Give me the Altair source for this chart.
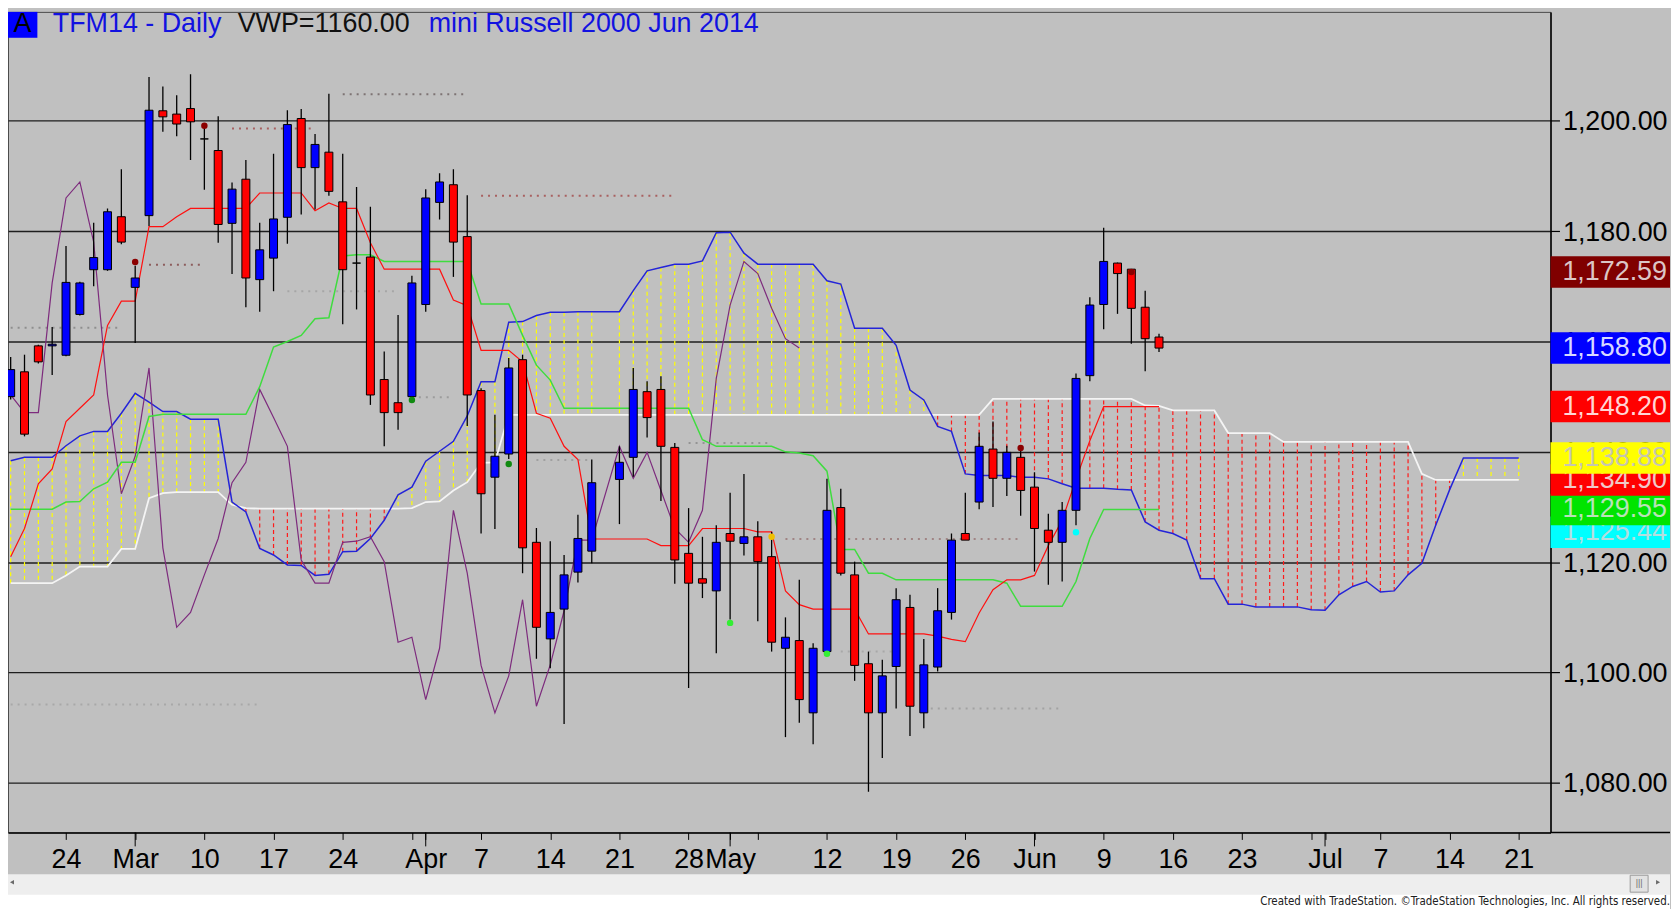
import json
import altair as alt
import pandas as pd

# ---------------- data ----------------
# weekday slot index: 0 = Mon 24 Feb 2014 ; slot 39 (Good Friday) has no bar
bar_idx = list(range(-4, 39)) + list(range(40, 80))

opens = [1150.0, 1154.5, 1159.2, 1159.2, 1157.5, 1164.9, 1173.0, 1173.0, 1182.6, 1169.8,
         1182.8, 1201.8, 1201.2, 1202.2, 1196.7, 1194.6, 1181.4, 1189.4, 1171.2, 1175.1,
         1182.5, 1200.4, 1191.5, 1194.3, 1185.3, 1174.2, 1175.3, 1153.1, 1148.9, 1150.0,
         1166.7, 1185.2, 1188.4, 1179.0, 1151.1, 1135.4, 1139.6, 1156.7, 1123.6, 1106.1,
         1111.5, 1118.2, 1122.0,
         1135.0, 1139.0, 1150.9, 1151.3, 1140.8, 1121.6, 1117.0, 1114.8, 1125.2, 1123.4,
         1124.6, 1121.0, 1104.4, 1105.8, 1092.7, 1103.8, 1129.9, 1117.7, 1101.6, 1092.7,
         1101.1, 1111.8, 1092.7, 1101.0, 1110.9, 1125.2, 1130.9, 1140.5, 1135.2, 1139.0,
         1133.6, 1125.8, 1123.6, 1129.4, 1153.8, 1166.7, 1174.2, 1173.1, 1166.2, 1160.8]
highs = [1157.2, 1157.6, 1159.4, 1162.6, 1177.3, 1170.8, 1181.5, 1184.1, 1191.2, 1173.7,
         1207.9, 1206.2, 1204.6, 1208.4, 1198.7, 1200.8, 1188.8, 1192.9, 1181.5, 1194.0,
         1201.9, 1202.1, 1197.6, 1204.9, 1194.0, 1188.0, 1184.4, 1158.2, 1164.8, 1171.9,
         1187.6, 1190.5, 1191.2, 1186.5, 1151.5, 1146.7, 1157.0, 1157.6, 1126.2, 1123.8,
         1121.3, 1128.6, 1138.6,
         1141.0, 1155.2, 1152.8, 1153.7, 1141.6, 1129.8, 1124.6, 1126.7, 1132.6, 1136.0,
         1127.4, 1125.5, 1110.0, 1116.8, 1105.3, 1135.1, 1133.3, 1120.1, 1103.8, 1102.3,
         1115.3, 1114.1, 1106.1, 1115.3, 1125.2, 1132.6, 1143.5, 1145.5, 1141.1, 1140.5,
         1136.3, 1128.8, 1130.9, 1154.2, 1168.0, 1180.6, 1174.3, 1173.1, 1169.2, 1161.4]
lows = [1149.5, 1142.8, 1156.0, 1153.9, 1157.3, 1164.7, 1170.0, 1172.8, 1177.6, 1159.7,
        1180.9, 1198.0, 1197.2, 1192.9, 1187.5, 1177.9, 1172.2, 1166.2, 1165.4, 1169.1,
        1177.7, 1183.0, 1183.9, 1186.4, 1163.1, 1165.8, 1148.5, 1141.0, 1144.0, 1149.1,
        1165.4, 1182.1, 1171.7, 1144.7, 1125.2, 1126.0, 1138.7, 1118.0, 1102.5, 1100.8,
        1090.7, 1116.3, 1119.8,
        1126.9, 1135.5, 1142.6, 1131.1, 1116.1, 1097.2, 1113.5, 1103.5, 1109.6, 1121.2,
        1109.3, 1103.8, 1088.3, 1090.9, 1087.0, 1103.2, 1117.6, 1098.5, 1078.4, 1084.5,
        1093.5, 1088.5, 1089.9, 1100.2, 1109.6, 1124.0, 1129.6, 1130.0, 1132.0, 1128.4,
        1118.3, 1115.9, 1116.5, 1126.7, 1152.8, 1162.2, 1165.0, 1159.6, 1154.6, 1158.1]
closes = [1154.9, 1143.2, 1156.3, 1159.5, 1170.7, 1170.6, 1175.2, 1183.5, 1178.0, 1171.5,
          1201.9, 1200.7, 1199.4, 1199.8, 1196.7, 1181.2, 1187.6, 1171.5, 1176.6, 1182.2,
          1199.3, 1191.5, 1195.7, 1187.2, 1173.0, 1174.2, 1150.3, 1147.1, 1147.1, 1170.6,
          1186.0, 1188.9, 1178.0, 1150.3, 1132.4, 1139.2, 1155.2, 1122.6, 1108.2, 1110.9,
          1117.7, 1124.3, 1134.4,
          1138.1, 1151.3, 1146.2, 1141.0, 1120.4, 1116.2, 1116.2, 1123.6, 1123.8, 1124.6,
          1120.1, 1105.5, 1106.4, 1095.1, 1104.4, 1129.4, 1118.0, 1101.3, 1092.7, 1099.4,
          1113.2, 1093.9, 1101.4, 1111.2, 1124.0, 1124.0, 1141.0, 1135.2, 1139.9, 1133.0,
          1126.1, 1123.6, 1129.4, 1153.3, 1166.6, 1174.5, 1172.3, 1166.0, 1160.5, 1158.8]

tenkan = [1121.0, 1126.1, 1134.2, 1136.9, 1145.5, 1147.9, 1150.3, 1162.9, 1167.3, 1167.3,
          1180.8, 1180.8, 1182.6, 1184.1, 1184.1, 1184.1, 1184.1, 1184.1, 1186.9, 1186.9,
          1186.9, 1186.9, 1183.7, 1185.1, 1184.1, 1184.1, 1177.9, 1173.1, 1173.1, 1173.1,
          1173.1, 1173.1, 1167.5, 1166.5, 1158.4, 1158.4, 1158.4, 1156.3, 1147.0, 1146.1,
          1141.0, 1138.6, 1124.2,
          1124.2, 1124.2, 1124.2, 1123.0, 1123.0, 1123.0, 1126.1, 1126.1, 1126.1, 1126.1,
          1125.5, 1125.5, 1114.8, 1112.3, 1111.5, 1111.5, 1111.5, 1111.5, 1107.0, 1107.0,
          1107.0, 1107.0, 1107.0, 1106.6, 1106.0, 1105.6, 1110.8, 1115.0, 1116.8, 1116.8,
          1117.6, 1123.0, 1127.6, 1135.0, 1142.0, 1148.2, 1148.2, 1148.2, 1148.2, 1148.2]
kijun = [1129.6, 1129.6, 1129.6, 1129.6, 1130.9, 1131.0, 1133.3, 1134.5, 1138.1, 1138.1,
         1146.4, 1146.8, 1146.8, 1146.8, 1146.8, 1146.8, 1146.8, 1146.8, 1151.8, 1159.0,
         1160.0, 1161.1, 1164.1, 1164.3, 1175.5, 1175.7, 1175.7, 1174.5, 1174.5, 1174.5,
         1174.5, 1174.5, 1174.5, 1174.5, 1166.8, 1166.8, 1166.8, 1161.1, 1155.7, 1153.0,
         1147.9, 1147.9, 1147.9,
         1147.9, 1147.9, 1147.9, 1147.9, 1147.9, 1147.9, 1142.2, 1141.0, 1141.0, 1141.0,
         1141.0, 1141.0, 1140.0, 1139.8, 1139.3, 1136.5, 1122.3, 1122.3, 1118.0, 1118.0,
         1116.8, 1116.8, 1116.8, 1116.8, 1116.8, 1116.8, 1116.8, 1116.8, 1116.2, 1112.0,
         1112.0, 1112.0, 1112.0, 1116.5, 1124.3, 1129.55, 1129.55, 1129.55, 1129.55, 1129.55]

span_idx = list(range(-4, 39)) + list(range(40, 106))
span_a = [1138.4, 1139.0, 1139.0, 1139.0,
          1141.1, 1142.9, 1143.7, 1143.7, 1147.0, 1150.6, 1149.0, 1147.3, 1147.3, 1145.9, 1145.9, 1145.9,
          1130.9, 1129.1, 1122.5, 1121.3, 1119.5, 1119.4, 1117.6, 1117.8, 1121.9, 1122.0, 1124.3, 1127.6,
          1132.2, 1133.6, 1138.3, 1140.1, 1141.9, 1146.5, 1152.7, 1152.7, 1163.5, 1163.6, 1164.7, 1165.3,
          1165.3, 1165.4, 1165.4,
          1165.4, 1169.2, 1172.8, 1173.4, 1174.0, 1174.0, 1174.6, 1179.7, 1179.8, 1176.0, 1174.0, 1174.0,
          1174.0, 1174.0, 1174.0,
          1171.0, 1170.4, 1162.4, 1162.4, 1162.4, 1159.3, 1151.2, 1149.4, 1144.6, 1143.7, 1136.0, 1135.7,
          1135.7, 1135.7, 1135.4,
          1135.4, 1135.1, 1134.2, 1133.4, 1133.4, 1133.4, 1133.2, 1133.1, 1127.3, 1125.8, 1125.2, 1124.0,
          1117.0, 1117.0, 1112.4,
          1112.4, 1111.9, 1111.9, 1111.9, 1111.9, 1111.4, 1111.3, 1114.1, 1115.6, 1116.5, 1114.6, 1114.8,
          1117.7, 1119.8, 1126.7,
          1133.1, 1138.88, 1138.88, 1138.88, 1138.88, 1138.88]
span_b = [1116.2, 1116.2, 1116.2, 1116.2,
          1117.6, 1119.2, 1119.2, 1119.2, 1122.4, 1122.4, 1131.6, 1132.5, 1132.7, 1132.7, 1132.7, 1132.7,
          1130.4, 1129.8, 1129.7, 1129.7, 1129.7, 1129.7, 1129.7, 1129.7, 1129.7, 1129.7, 1129.7, 1129.7,
          1129.7, 1129.8, 1130.9, 1131.0, 1133.0, 1134.5, 1138.0, 1138.1, 1146.7, 1146.7, 1146.7, 1146.7,
          1146.7, 1146.7, 1146.7,
          1146.7, 1146.7, 1146.7, 1146.7, 1146.7, 1146.7, 1146.7, 1146.7, 1146.7, 1146.7, 1146.7, 1146.7,
          1146.7, 1146.7, 1146.7,
          1146.7, 1146.7, 1146.7, 1146.7, 1146.7, 1146.7, 1146.7, 1146.7, 1146.7, 1146.7, 1146.7, 1146.7,
          1149.6, 1149.6, 1149.6,
          1149.6, 1149.6, 1149.6, 1149.6, 1149.6, 1149.6, 1149.6, 1149.6, 1148.4, 1148.3, 1147.5, 1147.5,
          1147.5, 1147.5, 1143.4,
          1143.4, 1143.4, 1143.4, 1141.8, 1141.8, 1141.8, 1141.8, 1141.8, 1141.8, 1141.8, 1141.8, 1141.8,
          1141.8, 1136.0, 1134.9,
          1134.9, 1134.9, 1134.9, 1134.9, 1134.9, 1134.9]

# faint dotted horizontal levels
dot_level = [1204.8, 1198.6, 1186.4, 1173.9, 1162.5, 1169.1, 1149.9, 1094.2, 1138.5, 1141.6, 1124.2, 1093.5, 1103.8]
dot_start = [20, 12, 30, 6, -4, 16, 25, -4, 34, 45, 52, 62, 56]
dot_end = [29, 18, 44, 10, 4, 24, 28, 14, 38, 51, 69, 72, 60]
dot_color = ["#7d7373", "#a86060", "#a86060", "#8c5c5c", "#8e8e8e", "#a6a6a6", "#9c9c9c",
             "#a8a8a8", "#a0a0a0", "#949494", "#a08484", "#a2a2a2", "#a8a8a8"]

# signal dots
sig_idx = [5, 10, 25, 32, 48, 51, 55, 69, 73, 77]
sig_val = [1174.4, 1199.1, 1149.4, 1137.8, 1109.0, 1124.6, 1103.4, 1140.7, 1125.44, 1172.59]
sig_color = ["#8b0000", "#8b0000", "#118a11", "#118a11", "#33ee33", "#f0c000", "#33ee33",
             "#8b0000", "#00ffff", "#8b0000"]

# last-value boxes on the price scale (drawn lowest first)
label_val = [1125.44, 1129.55, 1134.90, 1138.88, 1148.20, 1158.80, 1172.59]
label_bg = ["#00ffff", "#00e400", "#ff0000", "#ffff00", "#ff0000", "#0000ff", "#800000"]
label_fg = ["#b4dede", "#b8e2b8", "#f0c8c8", "#c6c6b0", "#ffd6d6", "#d8d8ff", "#dcc6c6"]

# axis ticks
tick_vals = [0, 5, 10, 15, 20, 25, 26, 30, 35, 40, 45, 48, 50, 55, 60, 65, 70, 75, 80, 85, 90, 91, 95, 100, 105]
tick_text = ["24", "Mar", "10", "17", "24", "", "Apr", "7", "14", "21", "28", "May", "", "12", "19", "26",
             "Jun", "9", "16", "23", "", "Jul", "7", "14", "21"]
month_ticks = [5, 26, 48, 70, 91]
y_ticks = [1080, 1100, 1120, 1140, 1160, 1180, 1200]

assert len(opens) == len(highs) == len(lows) == len(closes) == len(tenkan) == len(kijun) == len(bar_idx)
assert len(span_a) == len(span_b) == len(span_idx)

# ---------------- frames ----------------
candles = pd.DataFrame({"i": bar_idx, "open": opens, "high": highs, "low": lows, "close": closes})
n = len(bar_idx)
chikou = pd.DataFrame({"i": bar_idx[: n - 26], "v": closes[26:]})
tk = pd.DataFrame({"i": bar_idx, "v": tenkan})
kj = pd.DataFrame({"i": bar_idx, "v": kijun})
sa = pd.DataFrame({"i": span_idx, "v": span_a})
sb = pd.DataFrame({"i": span_idx, "v": span_b})
cloud = pd.DataFrame({"i": span_idx, "a": span_a, "b": span_b})
cloud["c"] = ["#ffff00" if a > b else "#ff1a1a" for a, b in zip(span_a, span_b)]
dots = pd.DataFrame({"v": dot_level, "s": dot_start, "e": dot_end, "c": dot_color})
sigs = pd.DataFrame({"i": sig_idx, "v": sig_val, "c": sig_color})
mt = pd.DataFrame({"i": month_ticks})
one = pd.DataFrame({"d": [0]})

# ---------------- geometry ----------------
W, H = 1549, 824
PX0, BAR = 61.6, 13.984
XS = alt.Scale(domain=[(8 - PX0) / BAR, (1557 - PX0) / BAR], nice=False, zero=False)
YS = alt.Scale(domain=[1071.03, 1219.72], nice=False, zero=False)
FONT = "Liberation Sans"

label_expr = "(" + json.dumps(tick_text) + ")[indexof(" + json.dumps(tick_vals) + ", datum.value)]"
XA = alt.Axis(values=tick_vals, labelExpr=label_expr, tickSize=7, tickColor="black", tickWidth=1,
              labelPadding=7, labelFontSize=27, labelColor="black", labelFont=FONT,
              domain=True, domainColor="black", domainWidth=1.5, grid=False, title=None,
              labelOverlap=False, labelFlush=False, labelBound=False, labelAngle=0)
YA = alt.Axis(orient="right", values=y_ticks, format=",.2f", grid=True, gridColor="#1e1e1e",
              gridWidth=1.4, tickSize=9, tickColor="black", tickWidth=1.2, labelPadding=3,
              labelFontSize=27, labelColor="black", labelFont=FONT, domain=True,
              domainColor="black", domainWidth=1.5, title=None, labelOverlap=False,
              labelFlush=False, labelBound=False, labelOffset=1)


def X(f):
    return alt.X(f"{f}:Q", scale=XS, axis=XA)


def Y(f):
    return alt.Y(f"{f}:Q", scale=YS, axis=YA)


layers = []
layers.append(alt.Chart(cloud).mark_rule(clip=True, strokeWidth=1.2, strokeDash=[4, 3]).encode(
    x=X("i"), y=Y("a"), y2=alt.Y2("b"), color=alt.Color("c:N", scale=None)))
layers.append(alt.Chart(dots).mark_rule(clip=True, strokeWidth=2, strokeDash=[2, 5]).encode(
    x=X("s"), x2=alt.X2("e"), y=Y("v"), color=alt.Color("c:N", scale=None)))
layers.append(alt.Chart(sb).mark_line(clip=True, color="#f4f4f4", strokeWidth=1.8).encode(x=X("i"), y=Y("v")))
layers.append(alt.Chart(sa).mark_line(clip=True, color="#2424d8", strokeWidth=1.5).encode(x=X("i"), y=Y("v")))
layers.append(alt.Chart(chikou).mark_line(clip=True, color="#7d2b7d", strokeWidth=1.2).encode(x=X("i"), y=Y("v")))
layers.append(alt.Chart(kj).mark_line(clip=True, color="#3fdc3f", strokeWidth=1.5).encode(x=X("i"), y=Y("v")))
layers.append(alt.Chart(tk).mark_line(clip=True, color="#ff1010", strokeWidth=1.2).encode(x=X("i"), y=Y("v")))
layers.append(alt.Chart(candles).mark_rule(clip=True, color="black", strokeWidth=1.3).encode(
    x=X("i"), y=Y("low"), y2=alt.Y2("high")))
layers.append(alt.Chart(candles).mark_bar(clip=True, size=8, stroke="black", strokeWidth=1).encode(
    x=X("i"), y=Y("open"), y2=alt.Y2("close"),
    color=alt.condition("datum.close >= datum.open", alt.value("#0000ff"), alt.value("#ff0000"))))
layers.append(alt.Chart(sigs).mark_circle(clip=True, size=42, opacity=1).encode(
    x=X("i"), y=Y("v"), color=alt.Color("c:N", scale=None)))

# price-scale value boxes
for v, bg, fg in zip(label_val, label_bg, label_fg):
    box = pd.DataFrame({"v": [v], "lo": [v - 2.85], "hi": [v + 2.85], "t": [f"{v:,.2f}"]})
    layers.append(alt.Chart(box).mark_rect(color=bg).encode(
        x=alt.value(W), x2=alt.value(W + 120), y=Y("lo"), y2=alt.Y2("hi")))
    layers.append(alt.Chart(box).mark_text(align="right", baseline="middle", fontSize=27, font=FONT,
                                           color=fg).encode(
        x=alt.value(W + 117), y=Y("v"), text="t:N"))

# month ticks (longer) and axis line under the price scale
layers.append(alt.Chart(mt).mark_rule(color="black", strokeWidth=1).encode(
    x=X("i"), y=alt.value(H), y2=alt.value(H + 14)))
layers.append(alt.Chart(one).mark_rule(color="black", strokeWidth=1.5).encode(
    x=alt.value(W), x2=alt.value(W + 120), y=alt.value(H)))

# scrollbar and footer
layers.append(alt.Chart(one).mark_rect(color="#eeeeee").encode(
    x=alt.value(0), x2=alt.value(W + 120), y=alt.value(H + 42), y2=alt.value(H + 62)))
layers.append(alt.Chart(one).mark_rect(color="#ffffff").encode(
    x=alt.value(0), x2=alt.value(W + 120), y=alt.value(H + 62), y2=alt.value(H + 77)))
layers.append(alt.Chart(one).mark_point(shape="triangle-left", filled=True, size=22, color="#6a6a6a", opacity=1).encode(
    x=alt.value(4), y=alt.value(H + 50)))
layers.append(alt.Chart(one).mark_point(shape="triangle-right", filled=True, size=22, color="#6a6a6a", opacity=1).encode(
    x=alt.value(W + 108), y=alt.value(H + 50)))
layers.append(alt.Chart(one).mark_rect(color="#e2e2e2", stroke="#9a9a9a", strokeWidth=1).encode(
    x=alt.value(W + 80), x2=alt.value(W + 98), y=alt.value(H + 43), y2=alt.value(H + 60)))
layers.append(alt.Chart(one).mark_text(text="|||", fontSize=9, font=FONT, color="#707070",
                                       align="center", baseline="middle").encode(
    x=alt.value(W + 89), y=alt.value(H + 51)))
layers.append(alt.Chart(one).mark_text(
    text="Created with TradeStation. \u00a9TradeStation Technologies, Inc. All rights reserved.",
    fontSize=11.5, font="Liberation Sans Narrow, Arial Narrow, DejaVu Sans Condensed, sans-serif",
    color="#202020", align="right", baseline="middle").encode(
    x=alt.value(W + 120), y=alt.value(H + 70)))

# header
layers.append(alt.Chart(one).mark_rect(color="#0000ff").encode(
    x=alt.value(0), x2=alt.value(29.5), y=alt.value(0), y2=alt.value(26)))
layers.append(alt.Chart(one).mark_text(text="A", fontSize=27, font=FONT, color="black",
                                       align="center", baseline="alphabetic").encode(
    x=alt.value(14.5), y=alt.value(20.3)))
layers.append(alt.Chart(one).mark_text(text="TFM14 - Daily", fontSize=27, font=FONT, color="#1212e0",
                                       align="left", baseline="alphabetic").encode(
    x=alt.value(44.9), y=alt.value(20.3)))
layers.append(alt.Chart(one).mark_text(text="VWP=1160.00", fontSize=27, font=FONT, color="#101010",
                                       align="left", baseline="alphabetic").encode(
    x=alt.value(230.6), y=alt.value(20.3)))
layers.append(alt.Chart(one).mark_text(text="mini Russell 2000 Jun 2014", fontSize=27, font=FONT,
                                       color="#1212e0", align="left", baseline="alphabetic").encode(
    x=alt.value(422.4), y=alt.value(20.3)))

chart = alt.layer(*layers).properties(width=W, height=H, padding=0).configure(
    background="#c0c0c0", font=FONT
).configure_view(stroke="#4a4a4a", strokeWidth=1)

chart.save("out.html", embed_options={"renderer": "svg", "actions": False})
